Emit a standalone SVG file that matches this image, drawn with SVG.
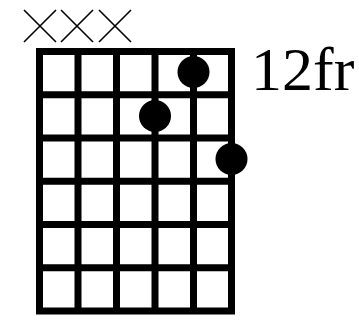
<svg xmlns="http://www.w3.org/2000/svg" width="359" height="322" viewBox="0 0 359 322">
<style>
.grid{stroke:#000;stroke-width:7;fill:none}
.mute{stroke:#000;stroke-width:1.6;fill:none}
.dot{fill:#000}
.lbl{font-family:"Liberation Serif","Times New Roman",serif;font-size:62px;fill:#000}
</style>
<rect width="359" height="322" fill="#fff"/>
<g id="fretboard" class="grid">
<rect x="39.5" y="51.5" width="192" height="259.5"/>
<path d="M78 51.5V311M116.5 51.5V311M155 51.5V311M193.5 51.5V311"/>
<path d="M39.5 94.75H231.5M39.5 138H231.5M39.5 181.25H231.5M39.5 224.5H231.5M39.5 267.75H231.5"/>
</g>
<g id="muted" class="mute">
<path d="M24 10L56 42M56 10L24 42"/>
<path d="M61 10L93 42M93 10L61 42"/>
<path d="M99 10L131 42M131 10L99 42"/>
</g>
<g id="dots" class="dot">
<circle cx="193.5" cy="72" r="16"/>
<circle cx="155" cy="116" r="16"/>
<circle cx="231.5" cy="159" r="16"/>
</g>
<text id="fret-label" class="lbl" x="251" y="90">12fr</text>
</svg>
